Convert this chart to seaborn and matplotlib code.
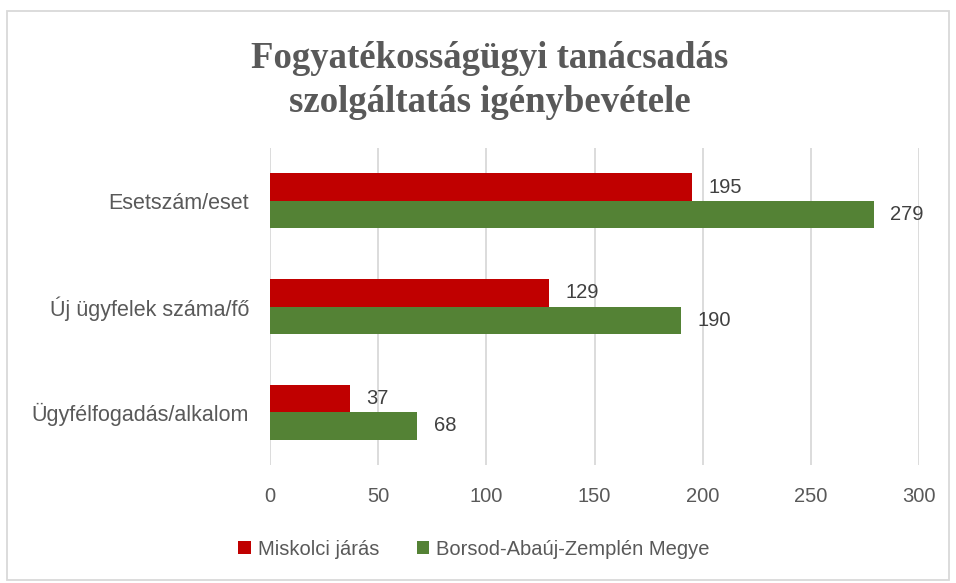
import matplotlib.pyplot as plt
import pandas as pd
import seaborn as sns
from matplotlib.patches import Rectangle

categories = ["Esetszám/eset", "Új ügyfelek száma/fő", "Ügyfélfogadás/alkalom"]
series = ["Miskolci járás", "Borsod-Abaúj-Zemplén Megye"]
miskolc = [195, 129, 37]
megye = [279, 190, 68]
colors = ["#C00000", "#548235"]

df = pd.DataFrame({
    "cat": categories * 2,
    "series": [series[0]] * 3 + [series[1]] * 3,
    "value": miskolc + megye,
})

sns.set_style("white")
plt.rcParams["font.family"] = ["Liberation Sans", "DejaVu Sans"]

fig = plt.figure(figsize=(9.56, 5.83), dpi=100)
ax = fig.add_axes([0.2824, 0.2024, 0.679, 0.5437])

sns.barplot(data=df, y="cat", x="value", hue="series", orient="h",
            palette=colors, saturation=1, width=0.52, linewidth=0,
            ax=ax, legend=True)

# value labels
for cont in ax.containers:
    ax.bar_label(cont, padding=12, fontsize=14.5, color="#404040")

ax.set_xlim(0, 300)
ax.set_xticks(range(0, 301, 50))
ax.grid(axis="x", color="#D9D9D9", linewidth=1.3)
ax.set_axisbelow(True)
for s in ax.spines.values():
    s.set_visible(False)
ax.tick_params(axis="x", length=0, labelsize=14.5, labelcolor="#595959", pad=16)
ax.tick_params(axis="y", length=0, labelsize=15.5, labelcolor="#595959", pad=15)
ax.set_xlabel("")
ax.set_ylabel("")

ax.legend(loc="center", bbox_to_anchor=(0.496, 0.058), bbox_transform=fig.transFigure,
          ncol=2, frameon=False, fontsize=14.5, labelcolor="#595959",
          handlelength=0.6, handleheight=0.6, handletextpad=0.35, columnspacing=1.9)

fig.text(0.512, 0.862, "Fogyatékosságügyi tanácsadás\nszolgáltatás igénybevétele",
         ha="center", va="center", fontsize=26.5, fontweight="bold",
         family=["Liberation Serif"], color="#595959", linespacing=1.3)

fig.patches.append(Rectangle((0.0075, 0.005), 0.985, 0.976, transform=fig.transFigure,
                             fill=False, edgecolor="#D9D9D9", linewidth=1.3))

fig.savefig("out.png", dpi=100)
